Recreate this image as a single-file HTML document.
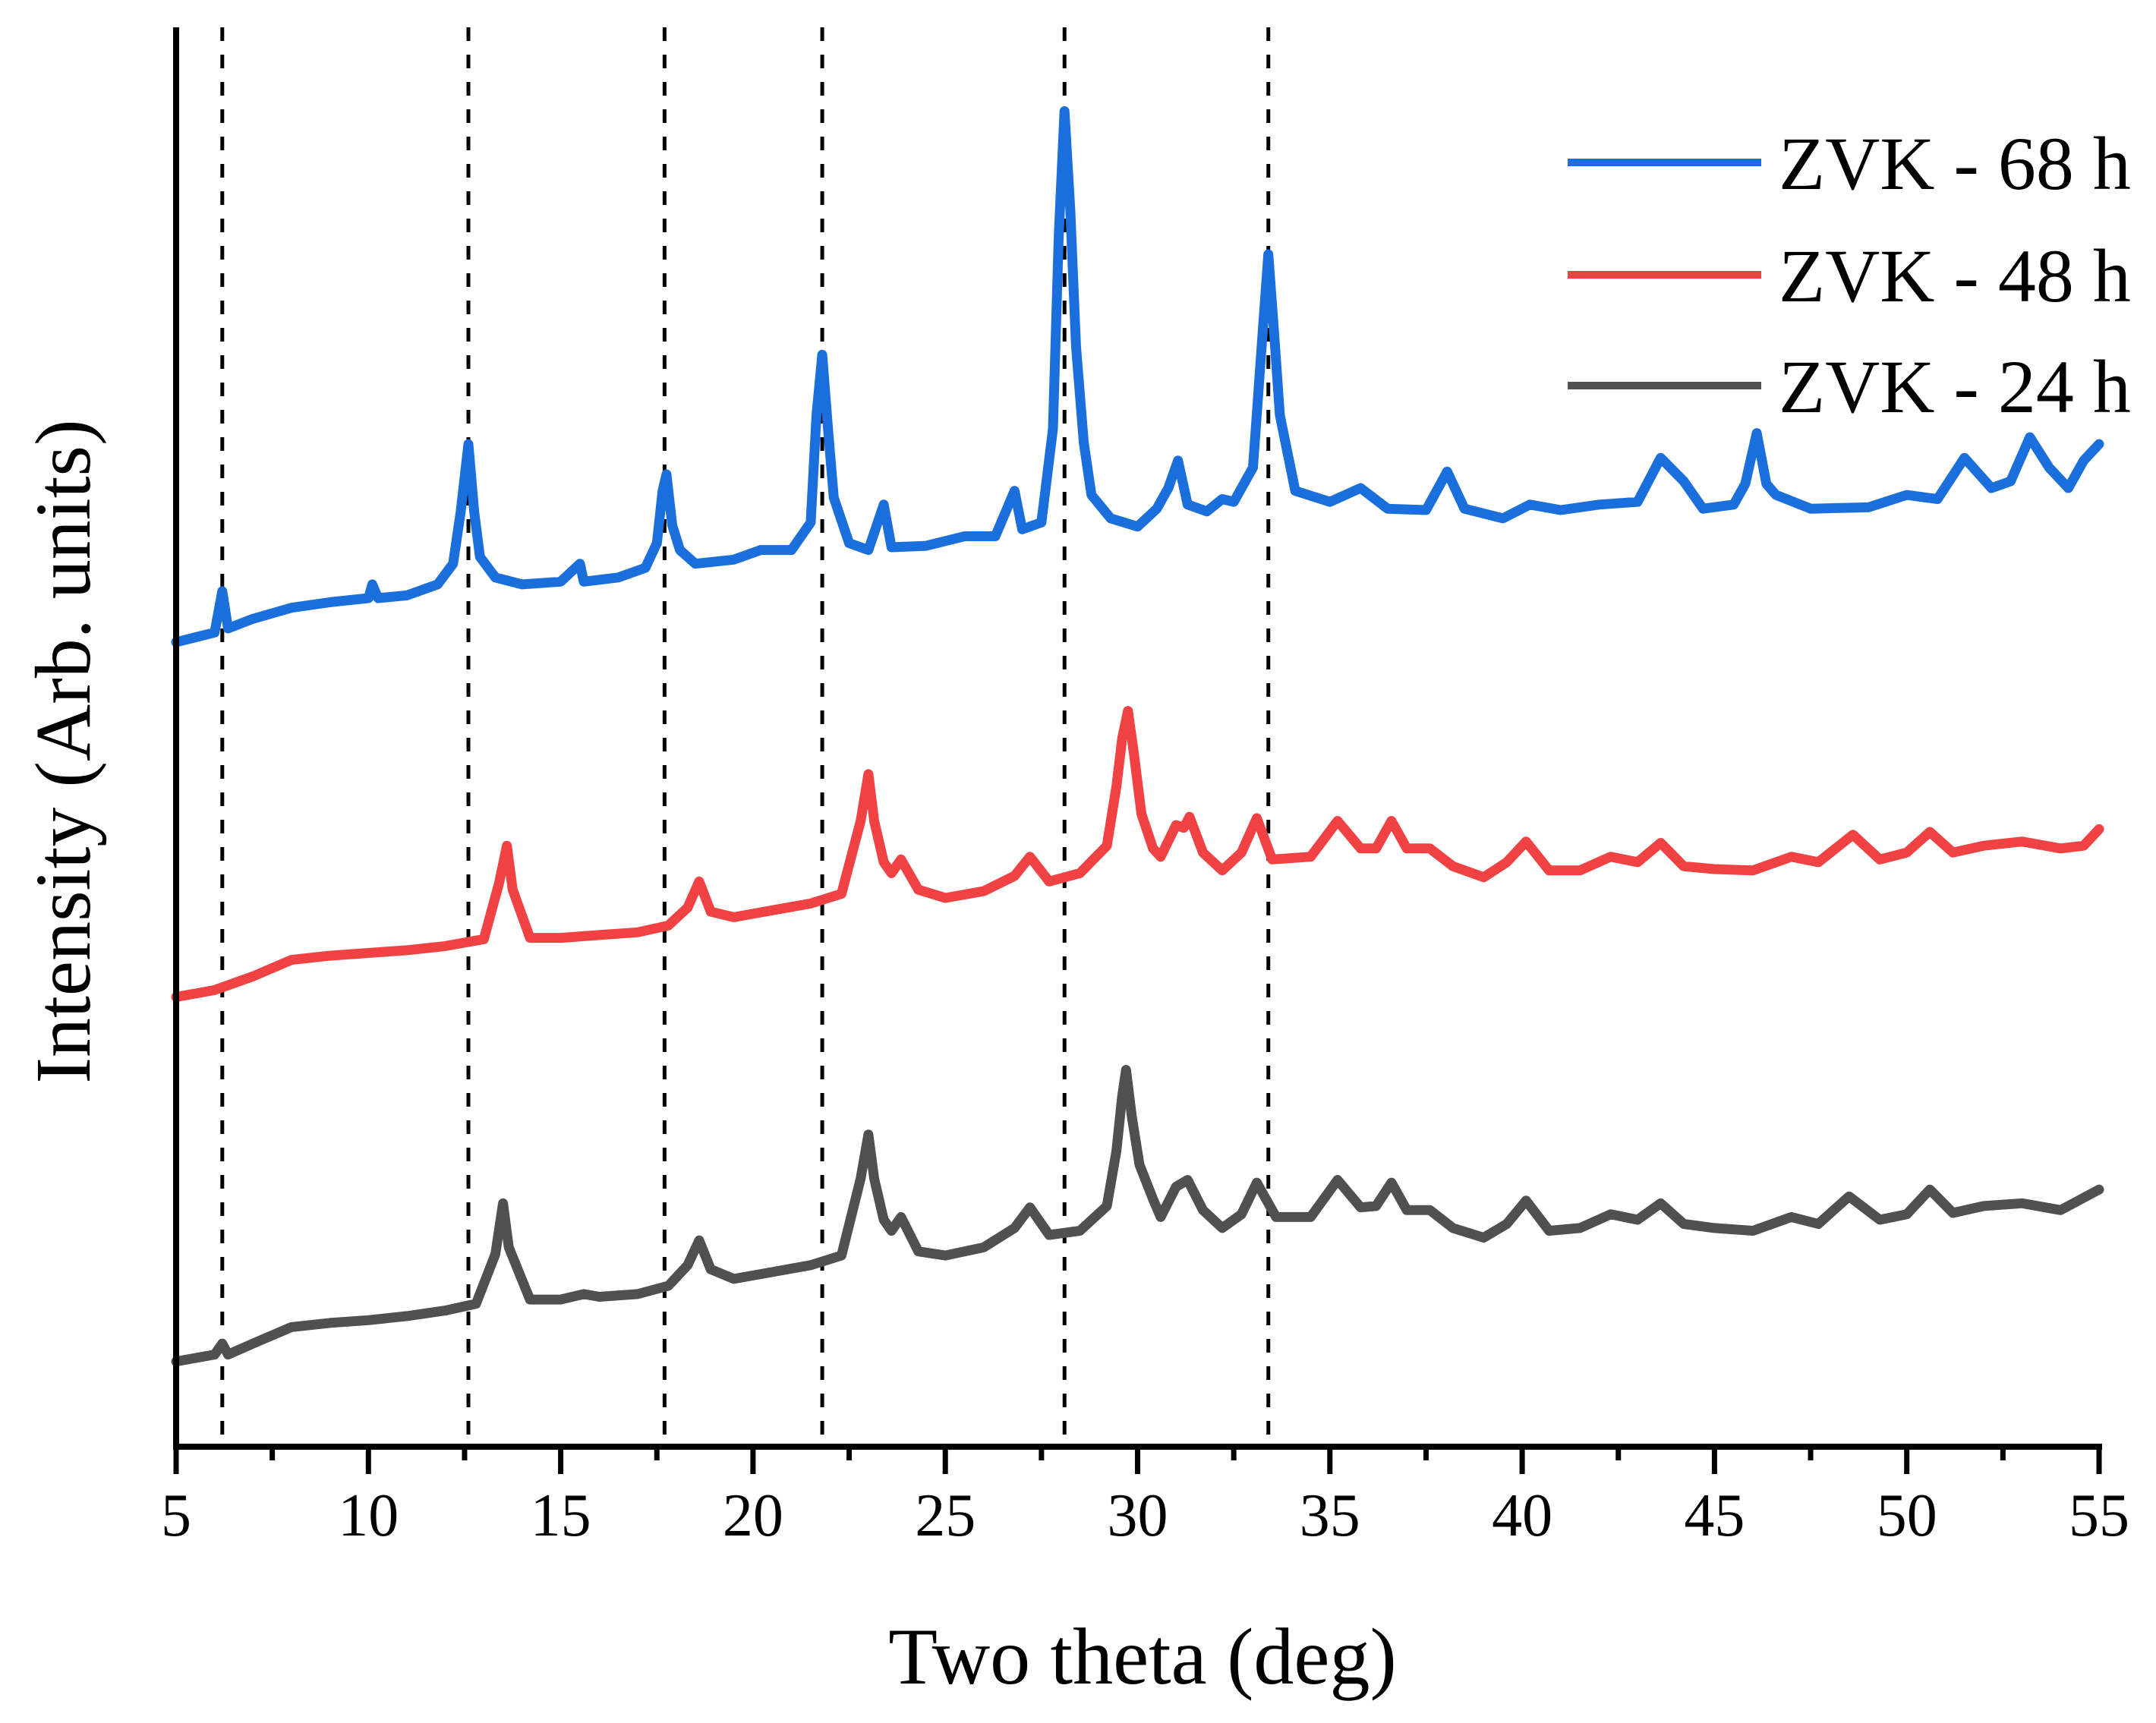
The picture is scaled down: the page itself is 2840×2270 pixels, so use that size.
<!DOCTYPE html>
<html><head><meta charset="utf-8"><style>
html,body{margin:0;padding:0;background:#fff;}
svg{display:block;font-family:"Liberation Serif",serif;}
</style></head><body>
<svg id="chart" width="2840" height="2270" viewBox="0 0 2840 2270" xmlns="http://www.w3.org/2000/svg">
<g id="dashes"></g>
<g id="series"></g>
<g id="axes"></g>
<text x="1505" y="2218" font-size="106" text-anchor="middle">Two theta (deg)</text>
<text transform="translate(118,990) rotate(-90)" font-size="104" text-anchor="middle">Intensity (Arb. units)</text>
<g id="legend"></g>
</svg>
<script>
const xTicks = [5,10,15,20,25,30,35,40,45,50,55];
const refLines = [6.2,12.6,17.7,21.8,28.1,33.4];
const seriesNames = ["ZVK - 68 h","ZVK - 48 h","ZVK - 24 h"];
const seriesColors = ["#1a6fdd","#f04242","#505050"];
const blueX = [5,6,6.2,6.35,7,8,9,10,10.1,10.25,11,11.8,12.2,12.4,12.6,12.75,12.9,13.3,14,15,15.5,15.6,16.5,17.2,17.5,17.65,17.75,17.9,18.1,18.5,19.5,20.2,21,21.5,21.65,21.8,21.95,22.1,22.5,23,23.4,23.6,24.5,25.5,26.3,26.8,27,27.5,27.8,27.95,28.1,28.25,28.4,28.6,28.8,29.3,30,30.5,30.8,31.05,31.3,31.8,32.2,32.5,33,33.2,33.4,33.55,33.7,34.1,35,35.8,36.5,37.5,38.05,38.5,39.5,40.2,41,42,43,43.6,44.2,44.7,45.5,45.8,46.1,46.35,46.6,47.5,49,50,50.8,51.5,52.2,52.7,53.2,53.7,54.2,54.6,55];
const blueY = [585,592,622,595,602,610,614,617,627,617,619,627,642,680,729,680,647,632,627,629,642,629,632,639,657,695,707,670,652,642,645,652,652,672,750,794,740,690,657,652,685,654,655,662,662,695,667,672,740,880,971,900,800,730,692,675,669,682,697,717,685,680,689,687,712,790,867,810,750,695,687,697,682,681,709,682,675,685,681,685,687,719,702,682,685,700,737,700,692,682,683,692,689,719,697,702,734,712,697,717,729];
const redX = [5,6,7,8,9,10,11,12,13,13.4,13.6,13.75,14.2,15,16,17,17.8,18.3,18.6,18.9,19.5,20.5,21.5,22.3,22.8,23,23.15,23.4,23.6,23.85,24.3,25,26,26.8,27.2,27.7,28.5,29.2,29.45,29.6,29.75,29.9,30.1,30.4,30.6,31,31.2,31.35,31.7,32.2,32.7,33.1,33.5,34.5,35.2,35.8,36.2,36.6,37,37.6,38.2,39,39.6,40.1,40.7,41.5,42.3,43,43.6,44.2,45,46,47,47.7,48.6,49.3,50,50.6,51.2,52,53,54,54.6,55];
const redY = [327,332,342,354,357,359,361,364,369,410,437,405,370,370,372,374,379,392,411,389,385,390,395,402,455,489,455,425,417,427,405,399,404,415,429,411,417,437,480,515,535,505,460,435,429,452,450,458,432,419,432,457,427,429,455,435,435,455,435,435,422,414,425,440,419,419,429,425,439,422,420,419,429,425,445,427,432,447,432,437,440,435,437,449];
const grayX = [5,6,6.2,6.35,7,8,9,10,11,12,12.8,13.3,13.5,13.65,14.2,15,15.6,16,17,17.8,18.3,18.6,18.9,19.5,20.5,21.5,22.3,22.8,23,23.15,23.4,23.6,23.85,24.3,25,26,26.8,27.2,27.7,28.5,29.2,29.45,29.6,29.7,29.85,30.05,30.4,30.6,31,31.3,31.7,32.2,32.7,33.1,33.6,34.5,35.2,35.8,36.2,36.6,37,37.6,38.2,39,39.6,40.1,40.7,41.5,42.3,43,43.6,44.2,45,46,47,47.7,48.5,49.3,50,50.6,51.2,52,53,54,55];
const grayY = [62,67,75,67,75,87,90,92,95,99,104,140,177,145,107,107,111,109,111,117,132,150,129,122,127,132,139,195,227,195,165,157,167,142,139,145,159,174,154,157,175,215,255,274,240,205,180,167,189,194,172,159,169,192,167,167,194,174,175,192,172,172,159,152,162,179,157,159,169,165,177,162,159,157,167,162,182,165,169,187,170,175,177,172,187];

const X0=232, X1=2765, XMIN=5, XMAX=55, YBASE=1906, YTOP=36, YS=1.812;
function sx(v){return X0+(v-XMIN)*(X1-X0)/(XMAX-XMIN);}
function sy(v){return YBASE-v*YS;}
const NS="http://www.w3.org/2000/svg";
function mk(t,a){const e=document.createElementNS(NS,t);for(const k in a)e.setAttribute(k,a[k]);return e;}

const dashes=document.getElementById('dashes');
refLines.forEach(v=>{
  const l=mk('line',{x1:sx(v),x2:sx(v),y1:YTOP,y2:YBASE,stroke:'#000','stroke-width':5,'stroke-dasharray':'18 18'});
  
  
  dashes.appendChild(l);
});

const sg=document.getElementById('series');
const allX=[blueX,redX,grayX], allY=[blueY,redY,grayY];
[2,1,0].forEach(i=>{
  const d=allX[i].map((x,j)=>(j?'L':'M')+sx(x).toFixed(1)+' '+sy(allY[i][j]).toFixed(1)).join(' ');
  const p=mk('path',{d:d,fill:'none',stroke:seriesColors[i],'stroke-width':13,'stroke-linejoin':'round','stroke-linecap':'round'});
  
  
  sg.appendChild(p);
});

const ax=document.getElementById('axes');
const yl=mk('line',{x1:X0,x2:X0,y1:YTOP,y2:YBASE+4,stroke:'#000','stroke-width':8});


ax.appendChild(yl);
const xl=mk('line',{x1:X0-4,x2:X1+4,y1:YBASE,y2:YBASE,stroke:'#000','stroke-width':8});


ax.appendChild(xl);
for(let v=XMIN;v<=XMAX;v+=2.5){
  const major=(v%5===0);
  const t=mk('line',{x1:sx(v),x2:sx(v),y1:YBASE,y2:YBASE+(major?36:18),stroke:'#000','stroke-width':7});
  
  
  ax.appendChild(t);
}
xTicks.forEach(v=>{
  const t=mk('text',{x:sx(v),y:2023,'font-size':80,'text-anchor':'middle'});
  t.textContent=v;
  
  
  ax.appendChild(t);
});

const lg=document.getElementById('legend');
const rowY=[214,362,508];
seriesNames.forEach((n,i)=>{
  const l=mk('line',{x1:2065,x2:2320,y1:rowY[i],y2:rowY[i],stroke:seriesColors[i],'stroke-width':10});
  
  
  lg.appendChild(l);
  const t=mk('text',{x:2343,y:rowY[i]+35,'font-size':100});
  t.textContent=n;
  
  
  lg.appendChild(t);
});
</script>
</body></html>
